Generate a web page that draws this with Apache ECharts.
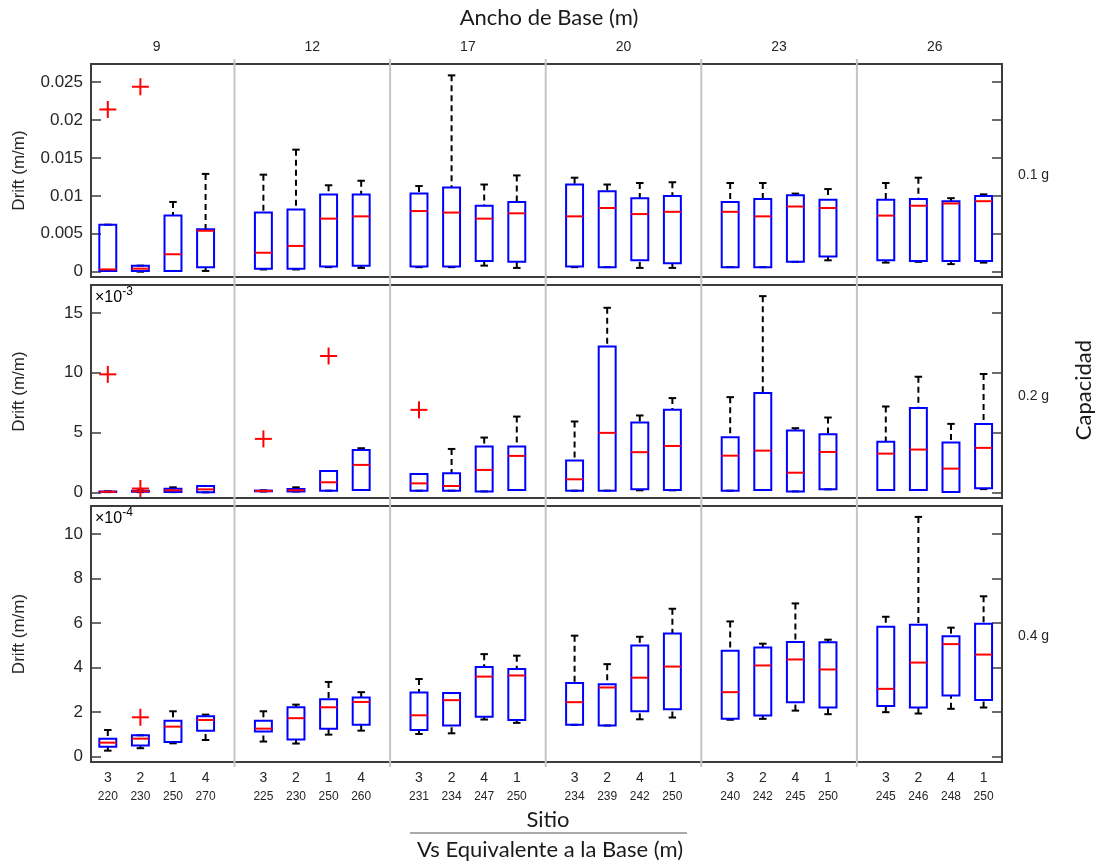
<!DOCTYPE html>
<html>
<head>
<meta charset="utf-8">
<script src="https://cdn.jsdelivr.net/npm/echarts@6/dist/echarts.min.js"></script>
<style>
  html, body { margin: 0; padding: 0; background: #ffffff; }
  #chart { width: 1099px; height: 865px; }
</style>
</head>
<body>
<div id="chart"></div>
<script>
// Base widths (one group of four sites per width)
const baseWidths = ['9', '12', '17', '20', '23', '26'];
// Site number and equivalent Vs under each box, per group
const siteIds = [
  [3, 2, 1, 4], [3, 2, 1, 4], [3, 2, 4, 1],
  [3, 2, 4, 1], [3, 2, 4, 1], [3, 2, 4, 1]
];
const vsBase = [
  [220, 230, 250, 270], [225, 230, 250, 260], [231, 234, 247, 250],
  [234, 239, 242, 250], [240, 242, 245, 250], [245, 246, 248, 250]
];

// Box statistics: [lower whisker, Q1, median, Q3, upper whisker]
// 0.1 g, drift in m/m
const drift01 = [
  [0.0001, 0.0001, 0.0003, 0.0062, 0.0062],
  [0.0000, 0.0001, 0.0004, 0.0008, 0.0008],
  [0.0001, 0.0001, 0.0023, 0.0074, 0.0092],
  [0.0001, 0.0006, 0.0054, 0.0056, 0.0129],
  [0.0003, 0.0004, 0.0025, 0.0078, 0.0128],
  [0.0003, 0.0004, 0.0034, 0.0082, 0.0161],
  [0.0006, 0.0007, 0.0070, 0.0102, 0.0114],
  [0.0005, 0.0008, 0.0073, 0.0102, 0.0120],
  [0.0006, 0.0007, 0.0080, 0.0103, 0.0113],
  [0.0006, 0.0007, 0.0078, 0.0111, 0.0259],
  [0.0008, 0.0014, 0.0070, 0.0087, 0.0115],
  [0.0005, 0.0013, 0.0077, 0.0092, 0.0127],
  [0.0006, 0.0007, 0.0073, 0.0115, 0.0124],
  [0.0006, 0.0006, 0.0084, 0.0106, 0.0115],
  [0.0005, 0.0015, 0.0076, 0.0097, 0.0117],
  [0.0005, 0.0011, 0.0079, 0.0100, 0.0118],
  [0.0006, 0.0006, 0.0079, 0.0092, 0.0117],
  [0.0006, 0.0006, 0.0073, 0.0096, 0.0117],
  [0.0013, 0.0013, 0.0086, 0.0101, 0.0103],
  [0.0015, 0.0020, 0.0084, 0.0095, 0.0109],
  [0.0012, 0.0015, 0.0074, 0.0095, 0.0117],
  [0.0013, 0.0014, 0.0087, 0.0096, 0.0124],
  [0.0010, 0.0014, 0.0090, 0.0093, 0.0097],
  [0.0012, 0.0014, 0.0093, 0.0100, 0.0102]
];
// outliers: [box index, value]
const outliers01 = [[0, 0.0214], [1, 0.0244]];

// 0.2 g, drift in units of 1e-3 m/m
const drift02 = [
  [0.05, 0.06, 0.08, 0.10, 0.12],
  [0.05, 0.08, 0.12, 0.16, 0.20],
  [0.05, 0.06, 0.20, 0.34, 0.45],
  [0.03, 0.03, 0.28, 0.56, 0.56],
  [0.10, 0.12, 0.15, 0.18, 0.20],
  [0.10, 0.11, 0.20, 0.31, 0.45],
  [0.17, 0.17, 0.87, 1.81, 1.81],
  [0.23, 0.23, 2.32, 3.57, 3.71],
  [0.17, 0.17, 0.78, 1.56, 1.56],
  [0.17, 0.17, 0.56, 1.62, 3.65],
  [0.11, 0.11, 1.90, 3.85, 4.60],
  [0.23, 0.23, 3.07, 3.85, 6.35],
  [0.17, 0.17, 1.12, 2.68, 5.94],
  [0.17, 0.17, 4.99, 12.20, 15.42],
  [0.20, 0.28, 3.38, 5.85, 6.44],
  [0.20, 0.23, 3.90, 6.91, 7.89],
  [0.17, 0.17, 3.09, 4.63, 7.97],
  [0.23, 0.23, 3.51, 8.31, 16.39],
  [0.11, 0.11, 1.67, 5.18, 5.38],
  [0.28, 0.28, 3.40, 4.88, 6.27],
  [0.23, 0.23, 3.26, 4.24, 7.19],
  [0.23, 0.23, 3.60, 7.06, 9.67],
  [0.06, 0.06, 2.01, 4.18, 5.74],
  [0.30, 0.37, 3.74, 5.74, 9.90]
];
const outliers02 = [[0, 9.87], [1, 0.35], [4, 4.49], [6, 11.4], [8, 6.91]];

// 0.4 g, drift in units of 1e-4 m/m
const drift04 = [
  [0.27, 0.45, 0.63, 0.81, 1.20],
  [0.38, 0.50, 0.81, 0.96, 0.96],
  [0.60, 0.66, 1.35, 1.61, 2.04],
  [0.75, 1.17, 1.65, 1.82, 1.89],
  [0.68, 1.13, 1.26, 1.62, 2.04],
  [0.59, 0.77, 1.73, 2.22, 2.34],
  [0.99, 1.26, 2.22, 2.58, 3.36],
  [1.17, 1.43, 2.46, 2.66, 2.90],
  [1.02, 1.20, 1.86, 2.88, 3.49],
  [1.05, 1.40, 2.54, 2.86, 2.86],
  [1.67, 1.80, 3.60, 4.03, 4.61],
  [1.52, 1.65, 3.65, 3.94, 4.54],
  [1.43, 1.43, 2.45, 3.31, 5.44],
  [1.40, 1.40, 3.11, 3.26, 4.16],
  [1.68, 2.04, 3.55, 5.00, 5.39],
  [1.76, 2.13, 4.05, 5.54, 6.65],
  [1.66, 1.70, 2.90, 4.76, 6.08],
  [1.70, 1.85, 4.10, 4.91, 5.08],
  [2.07, 2.45, 4.37, 5.15, 6.89],
  [1.91, 2.21, 3.92, 5.14, 5.26],
  [2.00, 2.28, 3.05, 5.84, 6.29],
  [1.94, 2.21, 4.23, 5.93, 10.78],
  [2.15, 2.75, 5.06, 5.41, 5.80],
  [2.21, 2.55, 4.59, 5.98, 7.21]
];
const outliers04 = [[1, 1.77]];

// Y tick values per row
const ticks01 = [0, 0.005, 0.01, 0.015, 0.02, 0.025];
const ticks02 = [0, 5, 10, 15];
const ticks04 = [0, 2, 4, 6, 8, 10];

// ---- layout helpers ----
const GROUP_STEP = 4.773;   // distance between first boxes of neighbouring groups
const BOX_W = 0.52;
const CAP_W = 0.23;
const PLUS_PX = 17;
const X_MIN = -0.515;
const X_MAX = 5 * GROUP_STEP + 3 + 0.565;

const positions = [];
baseWidths.forEach((_, g) => { for (let i = 0; i < 4; i++) positions.push(g * GROUP_STEP + i); });
const groupCenters = baseWidths.map((_, g) => g * GROUP_STEP + 1.5);
const separators = baseWidths.slice(1).map((_, g) => g * GROUP_STEP + (3 + GROUP_STEP) / 2);

const FONT = "'Liberation Sans', Arial, sans-serif";
const TITLE_FONT = "Lato, 'Open Sans', sans-serif";
const TXT = '#262626';
const FRAME = '#3c3c3c';

const rows = [
  { stats: drift01, outs: outliers01, ticks: ticks01, min: -0.0007, max: 0.0274, fmt: v => String(+v.toFixed(3)) },
  { stats: drift02, outs: outliers02, ticks: ticks02, min: -0.44, max: 17.32, fmt: v => String(v) },
  { stats: drift04, outs: outliers04, ticks: ticks04, min: -0.24, max: 11.27, fmt: v => String(v) }
];
const gridBoxes = [
  { top: 64, height: 213 },
  { top: 285, height: 213 },
  { top: 506, height: 256 }
];

function renderBox(params, api) {
  const x = api.value(0);
  const lo = api.value(1), q1 = api.value(2), md = api.value(3), q3 = api.value(4), hi = api.value(5);
  const half = api.size([BOX_W, 0])[0] / 2;
  const capHalf = api.size([CAP_W, 0])[0] / 2;
  const c = api.coord([x, md]);
  const px = c[0];
  const yLo = api.coord([x, lo])[1], yQ1 = api.coord([x, q1])[1];
  const yQ3 = api.coord([x, q3])[1], yHi = api.coord([x, hi])[1];
  const whisker = { stroke: '#000000', lineWidth: 2, lineDash: [6, 4] };
  const cap = { stroke: '#000000', lineWidth: 2 };
  const children = [
    { type: 'line', shape: { x1: px, y1: yHi, x2: px, y2: yQ3 }, style: whisker },
    { type: 'line', shape: { x1: px, y1: yLo, x2: px, y2: yQ1 }, style: whisker },
    { type: 'line', shape: { x1: px - capHalf, y1: yHi, x2: px + capHalf, y2: yHi }, style: cap },
    { type: 'line', shape: { x1: px - capHalf, y1: yLo, x2: px + capHalf, y2: yLo }, style: cap },
    { type: 'rect', shape: { x: px - half, y: yQ3, width: 2 * half, height: Math.max(yQ1 - yQ3, 0.5) },
      style: { fill: 'none', stroke: '#0000ff', lineWidth: 2 } },
    { type: 'line', shape: { x1: px - half, y1: c[1], x2: px + half, y2: c[1] },
      style: { stroke: '#ff0000', lineWidth: 2 } }
  ];
  return { type: 'group', children };
}

function renderPlus(params, api) {
  const p = api.coord([api.value(0), api.value(1)]);
  const h = PLUS_PX / 2;
  const st = { stroke: '#ff0000', lineWidth: 2 };
  return { type: 'group', children: [
    { type: 'line', shape: { x1: p[0] - h, y1: p[1], x2: p[0] + h, y2: p[1] }, style: st },
    { type: 'line', shape: { x1: p[0], y1: p[1] - h, x2: p[0], y2: p[1] + h }, style: st }
  ] };
}

function makeSeparatorRenderer(row) {
  return function (params, api) {
    const x = api.value(0);
    const top = api.coord([x, row.max])[1];
    const bot = api.coord([x, row.min])[1];
    const px = api.coord([x, 0])[0];
    return { type: 'line', shape: { x1: px, y1: top - 5, x2: px, y2: bot + 5 },
      style: { stroke: '#c4c4c4', lineWidth: 2 } };
  };
}

const grid = [], xAxis = [], yAxis = [], series = [];

rows.forEach((row, r) => {
  grid.push({ left: 91, right: 97, top: gridBoxes[r].top, height: gridBoxes[r].height,
    show: true, borderColor: FRAME, borderWidth: 2, backgroundColor: 'transparent' });

  // bottom x axis
  const bottom = {
    type: 'value', gridIndex: r, min: X_MIN, max: X_MAX, position: 'bottom',
    axisLine: { show: false, onZero: false }, axisTick: { show: false }, splitLine: { show: false },
    axisLabel: { show: false }
  };
  if (r === 2) {
    bottom.axisLabel = {
      show: true, customValues: positions, margin: 7,
      formatter: v => {
        const k = positions.findIndex(p => Math.abs(p - v) < 1e-6);
        if (k < 0) return '';
        const g = Math.floor(k / 4), i = k % 4;
        return '{s|' + siteIds[g][i] + '}\n{v|' + vsBase[g][i] + '}';
      },
      rich: {
        s: { fontSize: 14, fontFamily: FONT, color: TXT, lineHeight: 19 },
        v: { fontSize: 12, fontFamily: FONT, color: TXT, lineHeight: 18 }
      }
    };
  }
  xAxis.push(bottom);
  if (r === 0) {
    xAxis.push({
      type: 'value', gridIndex: 0, min: X_MIN, max: X_MAX, position: 'top',
      axisLine: { show: false, onZero: false }, axisTick: { show: false }, splitLine: { show: false },
      axisLabel: {
        customValues: groupCenters, margin: 10, fontSize: 14, fontFamily: FONT, color: TXT,
        formatter: v => {
          const g = groupCenters.findIndex(p => Math.abs(p - v) < 1e-6);
          return g < 0 ? '' : baseWidths[g];
        }
      }
    });
  }

  const tickStyle = { show: true, inside: true, length: 10, customValues: row.ticks,
    lineStyle: { color: FRAME, width: 1.5 } };
  yAxis.push({
    type: 'value', gridIndex: r, min: row.min, max: row.max, position: 'left',
    axisLine: { show: false, onZero: false }, splitLine: { show: false }, axisTick: tickStyle,
    axisLabel: { customValues: row.ticks, formatter: row.fmt, fontSize: 17, fontFamily: FONT,
      color: TXT, margin: 8 },
    name: 'Drift (m/m)', nameLocation: 'middle', nameGap: 63, nameRotate: 90,
    nameTextStyle: { fontSize: 17, fontFamily: FONT, color: TXT }
  });
  yAxis.push({
    type: 'value', gridIndex: r, min: row.min, max: row.max, position: 'right',
    axisLine: { show: false, onZero: false }, splitLine: { show: false }, axisTick: tickStyle,
    axisLabel: { show: false }
  });
});

// x axis indices: grid0 bottom = 0, grid0 top = 1, grid1 bottom = 2, grid2 bottom = 3
const xIdx = [0, 2, 3];
rows.forEach((row, r) => {
  series.push({
    type: 'custom', name: 'sep' + r, xAxisIndex: xIdx[r], yAxisIndex: 2 * r, z: 1, silent: true,
    renderItem: makeSeparatorRenderer(row), data: separators.map(x => [x]), encode: { x: 0 }
  });
  series.push({
    type: 'custom', name: 'box' + r, xAxisIndex: xIdx[r], yAxisIndex: 2 * r, z: 3, silent: true,
    renderItem: renderBox,
    data: row.stats.map((s, k) => [positions[k]].concat(s)),
    encode: { x: 0, y: [1, 2, 3, 4, 5] }
  });
  series.push({
    type: 'custom', name: 'out' + r, xAxisIndex: xIdx[r], yAxisIndex: 2 * r, z: 4, silent: true,
    renderItem: renderPlus,
    data: row.outs.map(o => [positions[o[0]], o[1]]),
    encode: { x: 0, y: 1 }
  });
});

const expRich = {
  a: { fontSize: 16, fontFamily: FONT, color: TXT, lineHeight: 20, verticalAlign: 'bottom' },
  b: { fontSize: 12, fontFamily: FONT, color: TXT, lineHeight: 20, verticalAlign: 'top' }
};

const graphic = [
  { type: 'text', x: 549, y: 18, style: { text: 'Ancho de Base (m)', align: 'center', verticalAlign: 'middle',
      fontSize: 22, fontFamily: TITLE_FONT, fill: '#1a1a1a' } },
  { type: 'text', x: 95, y: 286, style: { text: '{a|×10}{b|-3}', rich: expRich } },
  { type: 'text', x: 95, y: 507, style: { text: '{a|×10}{b|-4}', rich: expRich } },
  { type: 'text', x: 1018, y: 175, style: { text: '0.1 g', verticalAlign: 'middle', fontSize: 14, fontFamily: FONT, fill: TXT } },
  { type: 'text', x: 1018, y: 396, style: { text: '0.2 g', verticalAlign: 'middle', fontSize: 14, fontFamily: FONT, fill: TXT } },
  { type: 'text', x: 1018, y: 636, style: { text: '0.4 g', verticalAlign: 'middle', fontSize: 14, fontFamily: FONT, fill: TXT } },
  { type: 'text', x: 1084, y: 390, rotation: Math.PI / 2, style: { text: 'Capacidad', align: 'center', verticalAlign: 'middle',
      fontSize: 22, fontFamily: TITLE_FONT, fill: '#1a1a1a' } },
  { type: 'text', x: 548, y: 820, style: { text: 'Sitio', align: 'center', verticalAlign: 'middle',
      fontSize: 22, fontFamily: TITLE_FONT, fill: '#1a1a1a' } },
  { type: 'line', shape: { x1: 410, y1: 833, x2: 687, y2: 833 }, style: { stroke: '#555555', lineWidth: 1 } },
  { type: 'text', x: 550, y: 850, style: { text: 'Vs Equivalente a la Base (m)', align: 'center', verticalAlign: 'middle',
      fontSize: 22, fontFamily: TITLE_FONT, fill: '#1a1a1a' } }
];

const chart = echarts.init(document.getElementById('chart'), null, { renderer: 'canvas' });
chart.setOption({
  animation: false,
  backgroundColor: '#ffffff',
  grid, xAxis, yAxis, series, graphic
});
</script>
</body>
</html>
